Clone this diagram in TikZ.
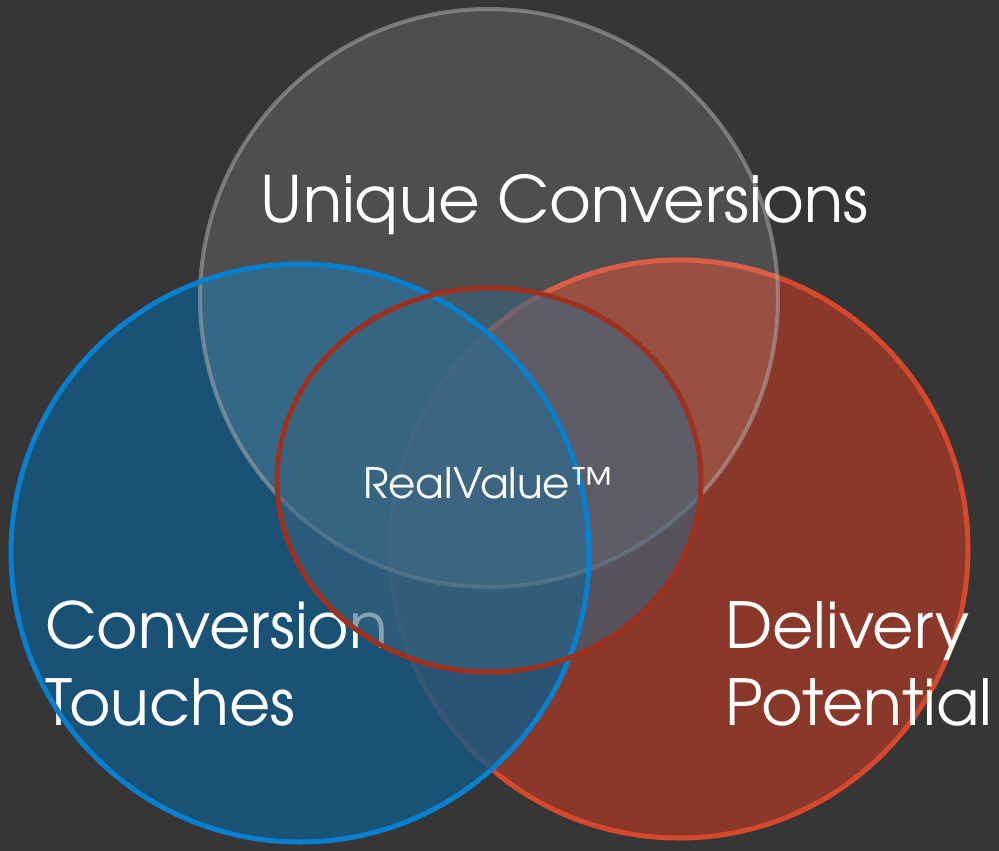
\documentclass[tikz,border=0pt]{standalone}
\usepackage{fontspec}
\setmainfont{texgyreadventor-regular.otf}
\definecolor{bgc}{RGB}{54,54,54}
\definecolor{redfill}{RGB}{138,56,42}
\definecolor{bluefill}{RGB}{20,90,135}
\definecolor{redline}{RGB}{214,72,44}
\definecolor{blueline}{RGB}{8,128,208}
\definecolor{ctrline}{RGB}{158,50,30}
\definecolor{ctrfill}{RGB}{55,100,128}
\definecolor{grayline}{RGB}{170,170,170}
\tikzset{
  bigtext/.style={text=white, inner sep=0pt, anchor=base west, font=\fontsize{63.5}{63.5}\selectfont},
  midtext/.style={text=white, inner sep=0pt, anchor=base west, font=\fontsize{42}{42}\selectfont},
}
\begin{document}
\begin{tikzpicture}[x=1pt,y=1pt]
\useasboundingbox (0,0) rectangle (999,-851);
\fill[bgc] (0,0) rectangle (999,-851);
\coordinate (cg) at (489,-298);
\coordinate (cb) at (300,-553);
\coordinate (cr) at (679,-549);
\coordinate (cc) at (489,-480);
% red circle
\fill[redfill] (cr) circle (289);
\draw[redline, line width=5] (cr) circle (289);
% blue circle fill
\fill[bluefill, fill opacity=0.8] (cb) circle (289);
% gray circle
\fill[white, fill opacity=0.12] (cg) circle (289);
\draw[grayline, draw opacity=0.55, line width=4] (cg) circle (289);
% side labels
\node[bigtext] (ct1) at (45,-648) {Conversion};
\node[bigtext] (ct2) at (45,-725) {Touches};
\node[bigtext] (dp1) at (725,-648) {Delivery};
\node[bigtext] (dp2) at (725,-725) {Potential};
% centre ellipse fill
\fill[ctrfill, fill opacity=0.6] (cc) ellipse [x radius=212, y radius=192];
% outlines on top
\draw[blueline, line width=5] (cb) circle (289);
\draw[ctrline, line width=5] (cc) ellipse [x radius=212, y radius=192];
% labels
\node[bigtext, font=\fontsize{64}{64}\selectfont] (uc) at (260,-222) {Unique Conversions};
\node[midtext] (rv) at (363,-498) {RealValue™};
\end{tikzpicture}
\end{document}
